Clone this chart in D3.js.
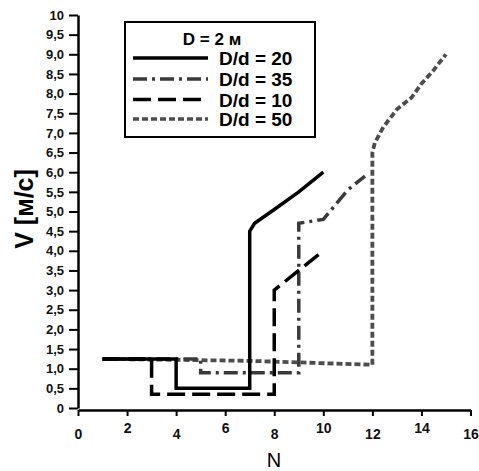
<!DOCTYPE html>
<html>
<head>
<meta charset="utf-8">
<script src="https://cdn.jsdelivr.net/npm/d3@7"></script>
<style>
  body { margin: 0; background: #fff; }
  svg { display: block; font-family: 'Liberation Sans', Arial, sans-serif; }
</style>
</head>
<body>
<svg id="chart" width="479" height="471"></svg>
<script>
// Data: N (number) vs V (m/s)
const seriesNames = ['D/d = 20', 'D/d = 35', 'D/d = 10', 'D/d = 50'];

const dd20N = [1, 4, 4, 7, 7, 7.2, 8, 9, 10];
const dd20V = [1.25, 1.25, 0.5, 0.5, 4.5, 4.7, 5.05, 5.5, 6.0];

const dd35N = [1, 5, 5, 9, 9, 10, 11, 11.7];
const dd35V = [1.25, 1.25, 0.9, 0.9, 4.7, 4.8, 5.55, 5.9];

const dd10N = [1, 3, 3, 8, 8, 10];
const dd10V = [1.25, 1.25, 0.35, 0.35, 3.0, 4.0];

const dd50N = [1, 7, 12, 12, 12.1, 12.45, 13, 13.6, 14, 14.5, 15];
const dd50V = [1.25, 1.2, 1.1, 6.5, 6.75, 7.15, 7.6, 7.9, 8.25, 8.6, 9.0];

const xTicks = [0, 2, 4, 6, 8, 10, 12, 14, 16];
const yTicks = [0, 0.5, 1, 1.5, 2, 2.5, 3, 3.5, 4, 4.5, 5, 5.5, 6, 6.5, 7, 7.5, 8, 8.5, 9, 9.5, 10];

const svg = d3.select('#chart');

const x = d3.scaleLinear().domain([0, 16]).range([78, 470.5]);
const y = d3.scaleLinear().domain([0, 10]).range([408, 15]);

// y tick labels use a comma as decimal mark
function fmtY(v) {
  if (v === 0 || v === 10) return String(v);
  return v.toFixed(1).replace('.', ',');
}

// Y axis
const yAxis = svg.append('g')
  .attr('transform', 'translate(78,0)')
  .call(d3.axisLeft(y).tickValues(yTicks).tickFormat(fmtY).tickSize(9).tickSizeOuter(0).tickPadding(5));
yAxis.select('.domain').attr('stroke-width', 2.5);
yAxis.selectAll('.tick line').attr('stroke-width', 2);
yAxis.selectAll('text')
  .attr('font-size', 13)
  .attr('font-weight', 'bold')
  .attr('fill', '#111');

// X axis (labels are staggered in the scan)
const xAxis = svg.append('g')
  .attr('transform', 'translate(0,410)')
  .call(d3.axisBottom(x).tickValues(xTicks).tickSize(6).tickSizeOuter(0));
xAxis.select('.domain').attr('stroke-width', 2.5);
xAxis.selectAll('.tick line').attr('stroke-width', 2);
xAxis.selectAll('text')
  .attr('y', (d, i) => i % 2 ? 13 : 19)
  .attr('font-size', 14)
  .attr('font-weight', 'bold')
  .attr('fill', '#111');

// Axis titles
svg.append('text')
  .attr('transform', 'translate(33,209) rotate(-90)')
  .attr('text-anchor', 'middle')
  .attr('font-size', 25)
  .attr('font-weight', 'bold')
  .text('V [м/с]');

svg.append('text')
  .attr('x', 274)
  .attr('y', 467)
  .attr('text-anchor', 'middle')
  .attr('font-size', 20)
  .text('N');

// Lines
const styles = [
  { color: '#000', dash: null, width: 3.5 },
  { color: '#3a3a3a', dash: '14,5,3,5', width: 3.5 },
  { color: '#000', dash: '18,7', width: 3.5 },
  { color: '#4d4d4d', dash: '6,3', width: 3.8 }
];

const seriesData = [
  dd20N.map((n, i) => [n, dd20V[i]]),
  dd35N.map((n, i) => [n, dd35V[i]]),
  dd10N.map((n, i) => [n, dd10V[i]]),
  dd50N.map((n, i) => [n, dd50V[i]])
];

const line = d3.line()
  .x(d => x(d[0]))
  .y(d => y(d[1]));

// draw dotted first, solid on top
[3, 1, 2, 0].forEach(k => {
  svg.append('path')
    .datum(seriesData[k])
    .attr('d', line)
    .attr('fill', 'none')
    .attr('stroke', styles[k].color)
    .attr('stroke-width', styles[k].width)
    .attr('stroke-dasharray', styles[k].dash)
    .attr('stroke-linejoin', 'miter');
});

// Legend
const legend = svg.append('g');
legend.append('rect')
  .attr('x', 125).attr('y', 22)
  .attr('width', 190).attr('height', 115)
  .attr('fill', '#fff')
  .attr('stroke', '#000')
  .attr('stroke-width', 2);

legend.append('text')
  .attr('x', 212).attr('y', 45)
  .attr('text-anchor', 'middle')
  .attr('font-size', 17)
  .attr('font-weight', 'bold')
  .text('D = 2 м');

const rowY = [58, 79, 99.5, 119];
seriesNames.forEach((name, k) => {
  legend.append('line')
    .attr('x1', 133).attr('x2', 208)
    .attr('y1', rowY[k]).attr('y2', rowY[k])
    .attr('stroke', styles[k].color)
    .attr('stroke-width', 3.5)
    .attr('stroke-dasharray', styles[k].dash);
  legend.append('text')
    .attr('x', 219).attr('y', rowY[k] + 7)
    .attr('font-size', 19)
    .attr('font-weight', 'bold')
    .text(name);
});
</script>
</body>
</html>
